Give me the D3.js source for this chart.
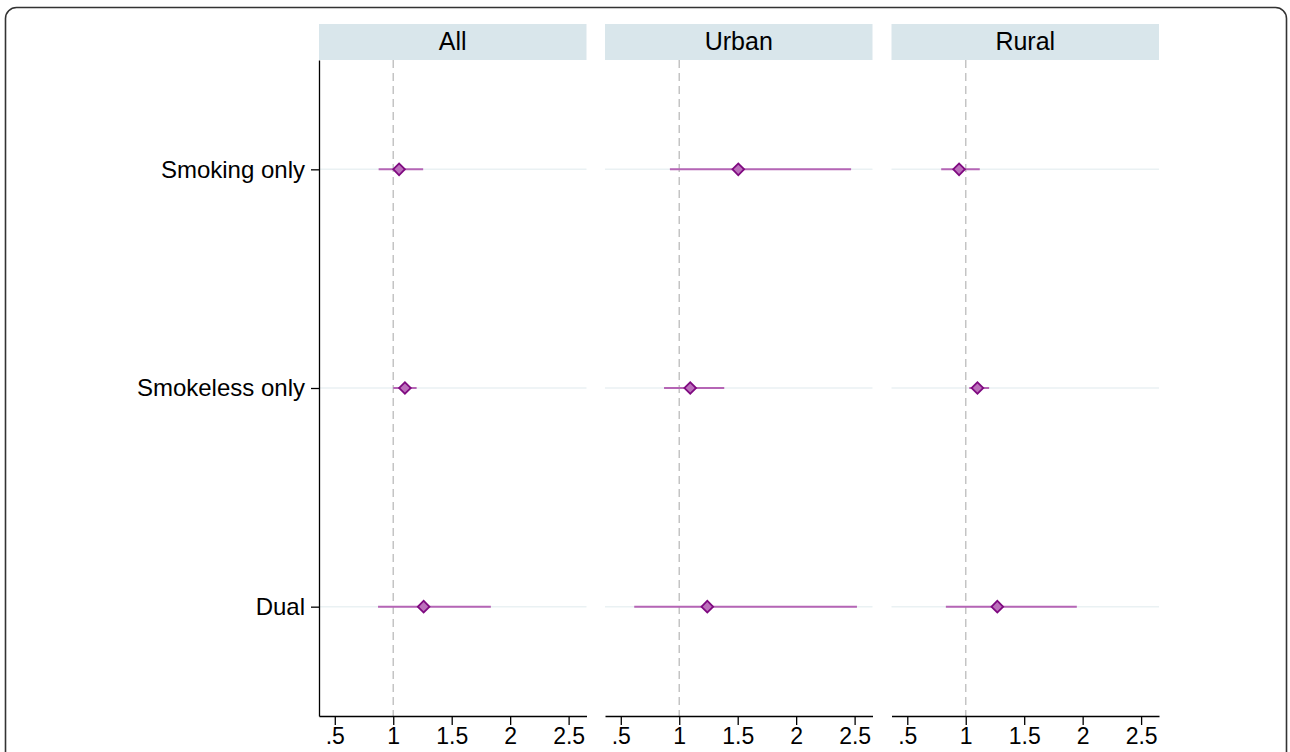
<!DOCTYPE html>
<html>
<head>
<meta charset="utf-8">
<script src="https://cdn.jsdelivr.net/npm/d3@7"></script>
<style>
  body { margin: 0; background: #fff; }
  text { font-family: "Liberation Sans", Arial, Helvetica, sans-serif; }
</style>
</head>
<body>
<script>
// data (odds ratios with 95% CI)
var panels = ["All", "Urban", "Rural"];
var groups = ["Smoking only", "Smokeless only", "Dual"];
var est   = [[1.05, 1.10, 1.26], [1.505, 1.094, 1.24], [0.943, 1.10, 1.27]];
var lower = [[0.875, 1.00, 0.87], [0.92, 0.87, 0.615], [0.79, 1.03, 0.83]];
var upper = [[1.256, 1.20, 1.835], [2.47, 1.385, 2.52], [1.12, 1.20, 1.95]];
var xTicks = [0.5, 1, 1.5, 2, 2.5];

var W = 1290, H = 752;
var panelLeft = [319, 605, 891.5], panelW = 267.5;
var plotTop = 60, plotBottom = 716;

var svg = d3.select("body").append("svg")
  .attr("width", W).attr("height", H);

// outer frame
svg.append("rect")
  .attr("x", 5.5).attr("y", 7.5).attr("width", 1281).attr("height", 800)
  .attr("rx", 11).attr("fill", "none").attr("stroke", "#333").attr("stroke-width", 1.6);

var y = d3.scaleLinear().domain([0.5, 3.5]).range([plotTop, plotBottom]);

panels.forEach(function(p, i) {
  var x0 = panelLeft[i];
  var x = d3.scaleLinear().domain([0.365, 2.653]).range([x0, x0 + panelW]);
  var g = svg.append("g");

  // strip
  g.append("rect")
    .attr("x", x0).attr("y", 24).attr("width", panelW).attr("height", 36)
    .attr("fill", "#d9e6eb");
  g.append("text")
    .attr("x", x0 + panelW / 2).attr("y", 50)
    .attr("text-anchor", "middle").attr("font-size", 25).attr("fill", "#000")
    .text(p);

  // horizontal grid lines at each group
  g.selectAll(".grid").data(groups).enter().append("line")
    .attr("x1", x0).attr("x2", x0 + panelW)
    .attr("y1", function(d, j) { return y(j + 1); })
    .attr("y2", function(d, j) { return y(j + 1); })
    .attr("stroke", "#eaf1f3").attr("stroke-width", 1.5);

  // reference line at 1
  g.append("line")
    .attr("x1", x(1)).attr("x2", x(1)).attr("y1", plotTop).attr("y2", plotBottom)
    .attr("stroke", "#c4c4c4").attr("stroke-width", 1.5)
    .attr("stroke-dasharray", "8,5");

  // x axis
  var xAxis = d3.axisBottom(x).tickValues(xTicks)
    .tickFormat(function(d) { return d == 0.5 ? ".5" : String(d); })
    .tickSize(9).tickPadding(3).tickSizeOuter(0);
  var gx = g.append("g").attr("transform", "translate(0," + plotBottom + ")").call(xAxis);
  gx.select(".domain").attr("stroke", "#000").attr("stroke-width", 1.3);
  gx.selectAll(".tick line").attr("stroke", "#000").attr("stroke-width", 1.3);
  gx.selectAll(".tick text").attr("font-size", 23).attr("fill", "#000")
    .attr("font-family", "Liberation Sans, Arial, sans-serif");

  // confidence intervals
  g.selectAll(".ci").data(groups).enter().append("line")
    .attr("x1", function(d, j) { return x(lower[i][j]); })
    .attr("x2", function(d, j) { return x(upper[i][j]); })
    .attr("y1", function(d, j) { return y(j + 1); })
    .attr("y2", function(d, j) { return y(j + 1); })
    .attr("stroke", "#b565b5").attr("stroke-width", 2);

  // point estimates (diamonds)
  g.selectAll(".pt").data(groups).enter().append("path")
    .attr("d", d3.symbol().type(d3.symbolSquare).size(68))
    .attr("transform", function(d, j) {
      return "translate(" + x(est[i][j]) + "," + y(j + 1) + ") rotate(45)";
    })
    .attr("fill", "#bb6fbb").attr("stroke", "#7f0a80").attr("stroke-width", 1.8);
});

// y axis on the first panel only
var yAxis = d3.axisLeft(y).tickValues([1, 2, 3])
  .tickFormat(function(d) { return groups[d - 1]; })
  .tickSize(8).tickPadding(6).tickSizeOuter(0);
var gy = svg.append("g")
  .attr("transform", "translate(" + panelLeft[0] + ",0)")
  .call(yAxis);
gy.select(".domain").attr("stroke", "#000").attr("stroke-width", 1.3);
gy.selectAll(".tick line").attr("stroke", "#000").attr("stroke-width", 1.3);
gy.selectAll(".tick text").attr("font-size", 24).attr("fill", "#000")
  .attr("font-family", "Liberation Sans, Arial, sans-serif");
</script>
</body>
</html>
